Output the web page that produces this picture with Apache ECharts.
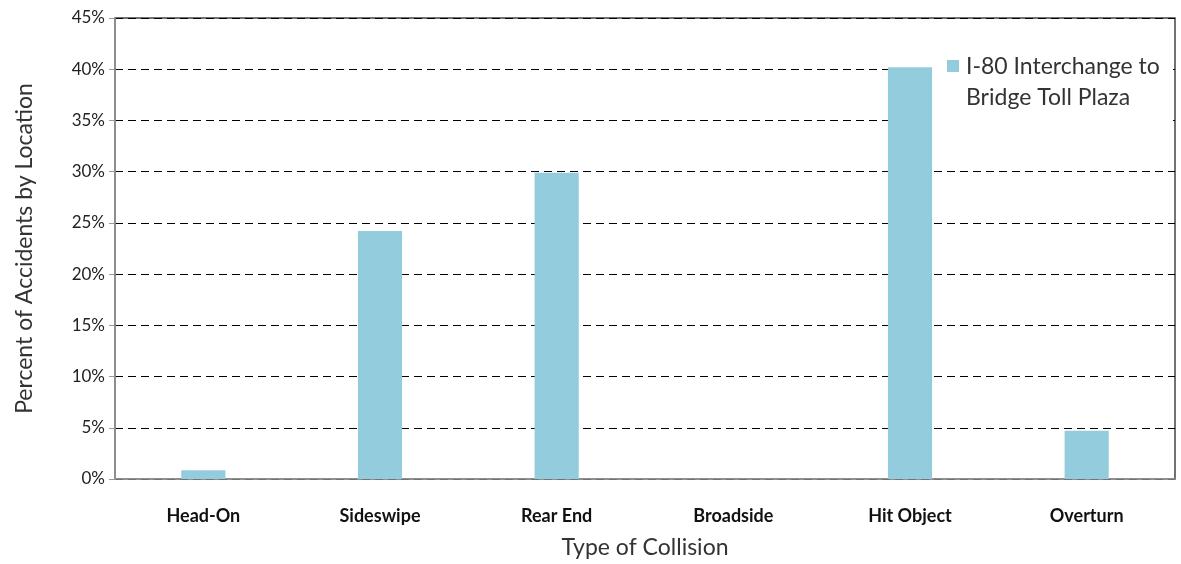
<!DOCTYPE html>
<html>
<head>
<meta charset="utf-8">
<script src="https://cdn.jsdelivr.net/npm/echarts@6/dist/echarts.min.js"></script>
<style>
  html, body { margin: 0; padding: 0; background: #fff; }
  #chart { width: 1181px; height: 564px; }
</style>
</head>
<body>
<div id="chart"></div>
<script>
// Collision types and share of accidents (%) for the corridor segment
const categories = ['Head-On', 'Sideswipe', 'Rear End', 'Broadside', 'Hit Object', 'Overturn'];
const seriesName = 'I-80 Interchange to\nBridge Toll Plaza';
const percentValues = [0.85, 24.2, 29.9, 0, 40.2, 4.7];

const FONT = 'Lato, "Open Sans", sans-serif';
const BAR_COLOR = '#93CDDD';

const chart = echarts.init(document.getElementById('chart'));
chart.setOption({
  animation: false,
  backgroundColor: '#fff',
  grid: {
    left: 115, right: 6, top: 18, bottom: 84,
    show: true, borderColor: '#444', borderWidth: 1.5
  },
  // Key drawn by hand so the swatch sits beside the first line of the two-line name;
  // its white box hides the gridlines behind it
  graphic: [
    {
      type: 'rect', left: 933, top: 30, z: 10,
      shape: { width: 240, height: 118 },
      style: { fill: '#fff' }
    },
    {
      type: 'rect', left: 947, top: 60, z: 11,
      shape: { width: 12, height: 12 },
      style: { fill: BAR_COLOR }
    },
    {
      type: 'text', left: 966, top: 51, z: 11,
      style: {
        text: seriesName, fontFamily: FONT, fontSize: 23,
        lineHeight: 31, fill: '#333'
      }
    }
  ],
  xAxis: {
    type: 'category',
    data: categories,
    name: 'Type of Collision',
    nameLocation: 'middle',
    nameGap: 57,
    nameTextStyle: { fontFamily: FONT, fontSize: 23, color: '#333' },
    axisLine: { lineStyle: { color: '#999', width: 1.5 } },
    axisTick: { show: false },
    axisLabel: {
      margin: 28, fontFamily: FONT, fontSize: 18, fontWeight: 'bold', color: '#111'
    }
  },
  yAxis: {
    type: 'value',
    min: 0, max: 45, interval: 5,
    name: 'Percent of Accidents by Location',
    nameLocation: 'middle',
    nameGap: 79,
    nameTextStyle: { fontFamily: FONT, fontSize: 23, color: '#333' },
    axisLine: { show: true, lineStyle: { color: '#999', width: 1.5 } },
    axisTick: { show: true, length: 6, lineStyle: { color: '#999' } },
    axisLabel: {
      margin: 10, fontFamily: FONT, fontSize: 17, color: '#222',
      formatter: '{value}%'
    },
    splitLine: {
      show: true,
      lineStyle: { color: '#000', type: [8, 5], width: 1 }
    }
  },
  series: [{
    name: seriesName,
    type: 'bar',
    data: percentValues,
    barWidth: '25%',
    itemStyle: { color: BAR_COLOR }
  }]
});
</script>
</body>
</html>
